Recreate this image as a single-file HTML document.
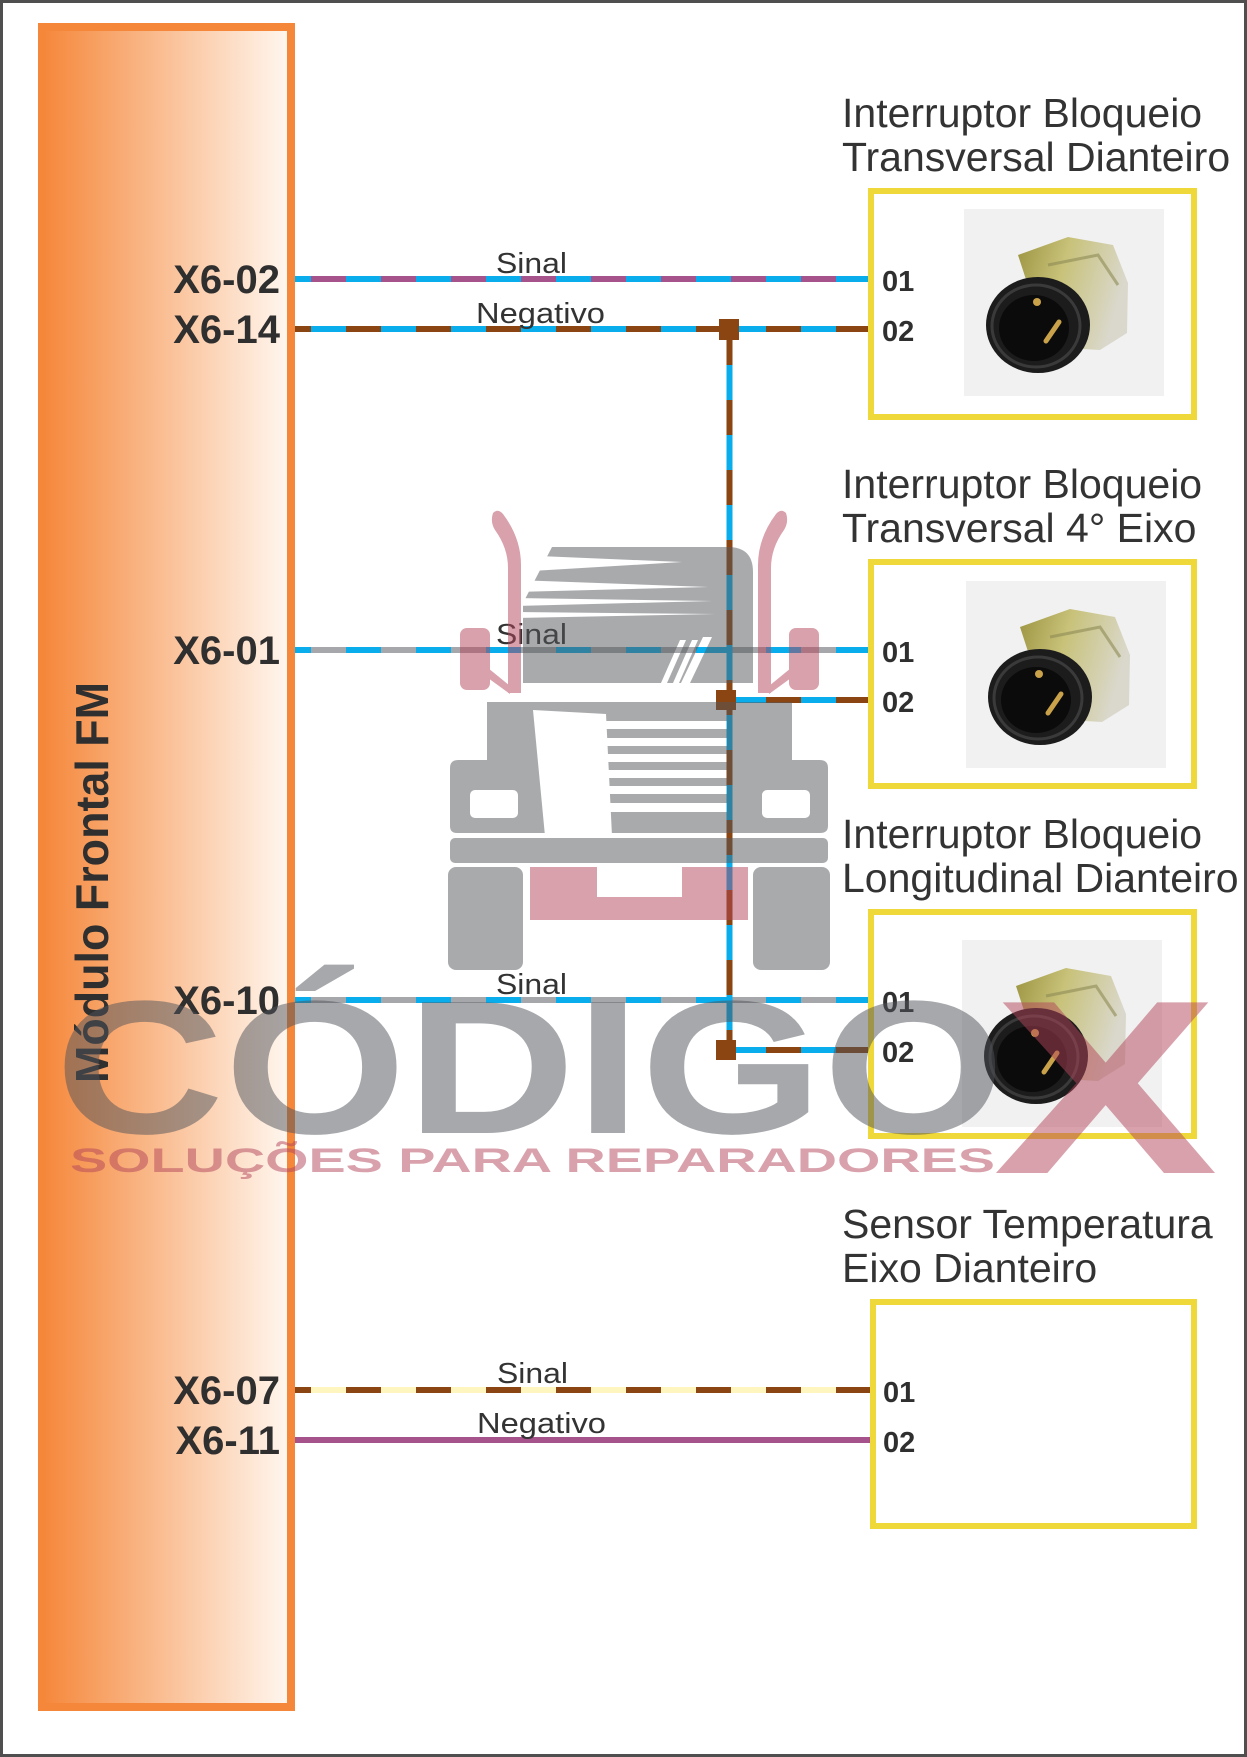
<!DOCTYPE html>
<html>
<head>
<meta charset="utf-8">
<style>
  html,body{margin:0;padding:0;background:#fff;}
  svg{display:block;}
  text{font-family:"Liberation Sans", Arial, sans-serif;}
</style>
</head>
<body>
<svg width="1247" height="1757" viewBox="0 0 1247 1757" xmlns="http://www.w3.org/2000/svg">
  <defs>
    <linearGradient id="og" x1="0" y1="0" x2="1" y2="0">
      <stop offset="0" stop-color="#F5873A"/>
      <stop offset="1" stop-color="#FFF8F1"/>
    </linearGradient>
    <linearGradient id="nut" x1="0" y1="0" x2="1" y2="0.3">
      <stop offset="0" stop-color="#9C9440"/>
      <stop offset="0.45" stop-color="#C8C27A"/>
      <stop offset="1" stop-color="#DAD8CC"/>
    </linearGradient>
    <g id="conn">
      <rect x="-74" y="-116" width="200" height="187" fill="#F1F1F1"/>
      <path d="M -20 -70 L 30 -88 L 75 -80 L 90 -42 L 89 8 L 62 25 L 10 22 Z" fill="url(#nut)"/>
      <path d="M 10 -60 L 60 -70 L 80 -40" fill="none" stroke="#8E8A55" stroke-width="3" opacity="0.6"/>
      <ellipse cx="0" cy="0" rx="52" ry="48" fill="#1c1c1c"/>
      <ellipse cx="-2" cy="1" rx="44" ry="41" fill="none" stroke="#3a3a3a" stroke-width="3"/>
      <ellipse cx="-4" cy="3" rx="35" ry="33" fill="#0b0b0b"/>
      <circle cx="-1" cy="-23" r="4" fill="#C9A24A"/>
      <line x1="8" y1="16" x2="21" y2="-3" stroke="#C9A24A" stroke-width="5" stroke-linecap="round"/>
    </g>
    <mask id="truckMask" maskUnits="userSpaceOnUse" x="0" y="0" width="1247" height="1757">
      <rect x="0" y="0" width="1247" height="1757" fill="#fff"/>
      <path d="M 515 555 L 515 572 L 682 562 Z" fill="#000"/>
      <path d="M 515 580 L 515 592 L 708 587 Z" fill="#000"/>
      <path d="M 515 598 L 515 606 L 712 601 Z" fill="#000"/>
      <path d="M 515 612 L 515 618 L 715 614 Z" fill="#000"/>
      <path d="M 680 640 L 686 640 L 667 683 L 661 683 Z" fill="#000"/>
      <path d="M 692 640 L 698 640 L 679 683 L 673 683 Z" fill="#000"/>
      <path d="M 703 637 L 712 637 L 690 683 L 681 683 Z" fill="#000"/>
      <path d="M 533 710 L 606 714 L 612 836 L 545 836 Z" fill="#000"/>
      <rect x="600" y="721" width="127" height="8" fill="#000"/>
      <rect x="600" y="738" width="127" height="8" fill="#000"/>
      <rect x="603" y="754" width="124" height="8" fill="#000"/>
      <rect x="605" y="770" width="122" height="8" fill="#000"/>
      <rect x="608" y="786" width="119" height="8" fill="#000"/>
      <rect x="610" y="803" width="117" height="9" fill="#000"/>
      <rect x="470" y="790" width="48" height="28" rx="5" fill="#000"/>
      <rect x="762" y="790" width="48" height="28" rx="5" fill="#000"/>
    </mask>
  </defs>

  <!-- background + outer frame -->
  <rect x="0" y="0" width="1247" height="1757" fill="#fff"/>
  <rect x="1.5" y="1.5" width="1244" height="1754" fill="none" stroke="#4f4f4f" stroke-width="3"/>

  <!-- wires -->
  <g stroke-width="6" fill="none">
    <!-- X6-02 -->
    <line x1="288" y1="279" x2="870" y2="279" stroke="#A6538C"/>
    <line x1="276" y1="279" x2="870" y2="279" stroke="#0AADEB" stroke-dasharray="35 35"/>
    <!-- X6-14 -->
    <line x1="288" y1="329" x2="870" y2="329" stroke="#0AADEB"/>
    <line x1="276" y1="329" x2="870" y2="329" stroke="#8A4512" stroke-dasharray="35 35"/>
    <!-- X6-01 -->
    <line x1="288" y1="650" x2="870" y2="650" stroke="#A5A7AA"/>
    <line x1="276" y1="650" x2="870" y2="650" stroke="#0AADEB" stroke-dasharray="35 35"/>
    <!-- X6-10 -->
    <line x1="288" y1="1000" x2="870" y2="1000" stroke="#A5A7AA"/>
    <line x1="276" y1="1000" x2="870" y2="1000" stroke="#0AADEB" stroke-dasharray="35 35"/>
    <!-- X6-07 -->
    <line x1="288" y1="1390" x2="872" y2="1390" stroke="#FFF5BF"/>
    <line x1="276" y1="1390" x2="872" y2="1390" stroke="#8A4512" stroke-dasharray="35 35"/>
    <!-- X6-11 -->
    <line x1="288" y1="1440" x2="872" y2="1440" stroke="#A6538C"/>
    <!-- branches to pin 02 -->
    <line x1="731" y1="700" x2="870" y2="700" stroke="#0AADEB"/>
    <line x1="731" y1="700" x2="870" y2="700" stroke="#8A4512" stroke-dasharray="35 35" stroke-dashoffset="35"/>
    <line x1="731" y1="1050" x2="870" y2="1050" stroke="#0AADEB"/>
    <line x1="731" y1="1050" x2="870" y2="1050" stroke="#8A4512" stroke-dasharray="35 35" stroke-dashoffset="35"/>
    <!-- vertical -->
    <line x1="729.5" y1="329" x2="729.5" y2="1050" stroke="#0AADEB"/>
    <line x1="729.5" y1="330" x2="729.5" y2="1050" stroke="#8A4512" stroke-dasharray="35 35"/>
  </g>
  <!-- junctions -->
  <rect x="719" y="319" width="20" height="21" fill="#8A4512"/>
  <rect x="716" y="690" width="20" height="20" fill="#8A4512"/>
  <rect x="716" y="1040" width="20" height="20" fill="#8A4512"/>

  <!-- component boxes -->
  <g fill="none" stroke="#EFD93A" stroke-width="6">
    <rect x="871" y="191" width="323" height="226"/>
    <rect x="871" y="562" width="323" height="224"/>
    <rect x="871" y="912" width="323" height="224"/>
    <rect x="873" y="1302" width="321" height="224"/>
  </g>

  <!-- connector photos -->
  <use href="#conn" x="1038" y="325"/>
  <use href="#conn" x="1040" y="697"/>
  <use href="#conn" x="1036" y="1056"/>

  <!-- titles -->
  <g font-size="41" fill="#333">
    <text x="842" y="127">Interruptor Bloqueio</text>
    <text x="842" y="171">Transversal Dianteiro</text>
    <text x="842" y="498">Interruptor Bloqueio</text>
    <text x="842" y="542">Transversal 4° Eixo</text>
    <text x="842" y="848">Interruptor Bloqueio</text>
    <text x="842" y="892">Longitudinal Dianteiro</text>
    <text x="842" y="1238">Sensor Temperatura</text>
    <text x="842" y="1282">Eixo Dianteiro</text>
  </g>

  <!-- pin labels -->
  <g font-size="29" font-weight="bold" fill="#2f2f2f">
    <text x="882" y="291">01</text>
    <text x="882" y="341">02</text>
    <text x="882" y="662">01</text>
    <text x="882" y="712">02</text>
    <text x="882" y="1012">01</text>
    <text x="882" y="1062">02</text>
    <text x="883" y="1402">01</text>
    <text x="883" y="1452">02</text>
  </g>

  <!-- wire labels -->
  <g font-size="29" fill="#333">
    <text x="496" y="273" textLength="71" lengthAdjust="spacingAndGlyphs">Sinal</text>
    <text x="476" y="323" textLength="129" lengthAdjust="spacingAndGlyphs">Negativo</text>
    <text x="496" y="644" textLength="71" lengthAdjust="spacingAndGlyphs">Sinal</text>
    <text x="496" y="994" textLength="71" lengthAdjust="spacingAndGlyphs">Sinal</text>
    <text x="497" y="1383" textLength="71" lengthAdjust="spacingAndGlyphs">Sinal</text>
    <text x="477" y="1433" textLength="129" lengthAdjust="spacingAndGlyphs">Negativo</text>
  </g>

  <!-- orange module panel -->
  <rect x="42" y="27" width="249" height="1680" fill="url(#og)" stroke="#F5873A" stroke-width="8"/>
  <text transform="translate(108,1083) rotate(-90)" font-size="46" font-weight="bold" fill="#2f2f2f" textLength="401" lengthAdjust="spacingAndGlyphs">Módulo Frontal FM</text>

  <!-- connector pin names -->
  <g font-size="40" font-weight="bold" fill="#2f2f2f" text-anchor="end">
    <text x="280" y="293">X6-02</text>
    <text x="280" y="343">X6-14</text>
    <text x="280" y="664">X6-01</text>
    <text x="280" y="1014">X6-10</text>
    <text x="280" y="1404">X6-07</text>
    <text x="280" y="1454">X6-11</text>
  </g>

  <!-- watermark -->
  <g opacity="0.5">
    <!-- truck gray -->
    <g fill="#55585C" mask="url(#truckMask)">
      <path d="M 523 603 L 523 683 L 753 683 L 753 572 Q 753 547 728 547 L 552 547 Z"/>
      <path d="M 487 702 L 792 702 L 792 760 L 820 760 Q 828 760 828 768 L 828 826 Q 828 833 820 833 L 457 833 Q 450 833 450 826 L 450 768 Q 450 760 458 760 L 487 760 Z"/>
      <rect x="450" y="838" width="378" height="25" rx="5"/>
      <rect x="448" y="867" width="75" height="103" rx="8"/>
      <rect x="753" y="867" width="77" height="103" rx="8"/>
    </g>
    <!-- truck pink -->
    <g fill="#B3455A">
      <path d="M 530 867 H 597 V 897 H 682 V 867 H 748 V 920 H 530 Z"/>
      <path d="M 493 513 Q 498 508 503 514 Q 521 538 521 565 L 521 693 L 508 693 L 508 568 Q 508 548 495 530 Q 490 522 493 513 Z"/>
      <path d="M 786 513 Q 781 508 776 514 Q 758 538 758 565 L 758 693 L 771 693 L 771 568 Q 771 548 784 530 Q 789 522 786 513 Z"/>
      <rect x="460" y="628" width="30" height="62" rx="7"/>
      <path d="M 488 668 L 510 686 L 510 694 L 488 678 Z"/>
      <rect x="789" y="628" width="30" height="62" rx="7"/>
      <path d="M 791 668 L 769 686 L 769 694 L 791 678 Z"/>
    </g>
    <!-- logo text -->
    <text x="55" y="1133" font-size="190" font-weight="bold" fill="#50535A" textLength="950" lengthAdjust="spacingAndGlyphs">CÓDIGO</text>
    <text x="70" y="1172" font-size="34" font-weight="bold" fill="#B3455A" textLength="925" lengthAdjust="spacingAndGlyphs">SOLUÇÕES PARA REPARADORES</text>
    <text x="993" y="1173" font-size="248" font-weight="bold" fill="#B3455A" textLength="225" lengthAdjust="spacingAndGlyphs">X</text>
  </g>
</svg>
</body>
</html>
